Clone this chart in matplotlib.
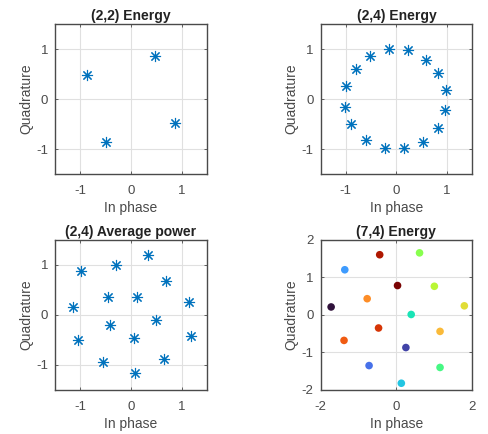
import matplotlib
matplotlib.use("Agg")
import matplotlib.pyplot as plt
import numpy as np

plt.rcParams['font.family'] = ['Liberation Sans', 'DejaVu Sans']
plt.rcParams['axes.unicode_minus'] = False

# (2,2) energy constellation
e22_i = [-0.87, 0.47, 0.86, -0.50]
e22_q = [0.49, 0.87, -0.49, -0.87]

# (2,4) energy constellation
e24_i = [-0.14, 0.23, 0.59, 0.83, 0.99, 0.97, 0.82, 0.53,
         0.16, -0.22, -0.60, -0.90, -1.02, -0.99, -0.80, -0.53]
e24_q = [1.00, 0.98, 0.78, 0.53, 0.19, -0.22, -0.58, -0.87,
         -0.99, -0.99, -0.82, -0.51, -0.16, 0.27, 0.61, 0.86]

# (2,4) average power constellation
p24_i = [0.34, -0.30, -0.99, 0.69, -0.46, 0.12, -1.15, 1.15,
         0.49, -0.41, 0.05, -1.04, 1.18, -0.55, 0.66, 0.08]
p24_q = [1.20, 1.00, 0.875, 0.68, 0.35, 0.35, 0.16, 0.25,
         -0.105, -0.20, -0.47, -0.51, -0.42, -0.95, -0.89, -1.17]

# (7,4) energy constellation with symbol index colouring
e74_i = [-1.72, 0.25, -0.72, -1.36, 0.13, 0.39, 1.15, 0.61,
         1.00, 1.79, 1.15, -0.77, -1.38, -0.47, -0.44, 0.03]
e74_q = [0.21, -0.87, -1.35, 1.20, -1.82, 0.01, -1.40, 1.65,
         0.76, 0.24, -0.44, 0.43, -0.68, -0.35, 1.60, 0.78]
e74_idx = list(range(16))

titles = ["(2,2) Energy", "(2,4) Energy", "(2,4) Average power", "(7,4) Energy"]

fig = plt.figure(figsize=(4.88, 4.34), dpi=100)
W, H = 488.0, 434.0

def make_ax(left, top, right, bottom):
    return fig.add_axes([left / W, 1 - bottom / H, (right - left) / W, (bottom - top) / H])

axes = [
    make_ax(55, 24, 207, 174),
    make_ax(320.5, 24, 472.3, 174),
    make_ax(55, 239.7, 207, 389.7),
    make_ax(320.5, 239.7, 472.3, 390),
]

blue = '#0072BD'
asterisk = (8, 2, 0)
for ax, xi, yq in zip(axes[:3], [e22_i, e24_i, p24_i], [e22_q, e24_q, p24_q]):
    ax.plot(xi, yq, linestyle='none', marker=asterisk, color=blue,
            markersize=8, markeredgewidth=0.8)
axes[3].scatter(e74_i, e74_q, c=e74_idx, cmap='turbo', s=30, edgecolors='none', zorder=3)

for k, ax in enumerate(axes):
    if k < 3:
        ax.set_xlim(-1.5, 1.5)
        ax.set_ylim(-1.5, 1.5)
        ax.set_xticks([-1, 0, 1])
        ax.set_yticks([-1, 0, 1])
    else:
        ax.set_xlim(-2, 2)
        ax.set_ylim(-2, 2)
        ax.set_xticks([-2, 0, 2])
        ax.set_yticks([-2, -1, 0, 1, 2])
    ax.grid(True, color='#e0e0e0', linewidth=0.8)
    ax.set_axisbelow(True)
    ax.tick_params(direction='in', length=2.5, width=0.6, colors='#4a4a4a',
                   labelsize=9.5, top=True, right=True)
    ax.tick_params(axis='x', pad=8)
    ax.tick_params(axis='y', pad=5)
    for sp in ax.spines.values():
        sp.set_color('#4a4a4a')
        sp.set_linewidth(1.0)
    ax.set_title(titles[k], fontsize=10, fontweight='bold', color='#222222', pad=3)
    ax.set_xlabel('In phase', fontsize=10, color='#4a4a4a', labelpad=3)
    ax.set_ylabel('Quadrature', fontsize=10, color='#4a4a4a', labelpad=2)

fig.savefig('out.png', dpi=100)
